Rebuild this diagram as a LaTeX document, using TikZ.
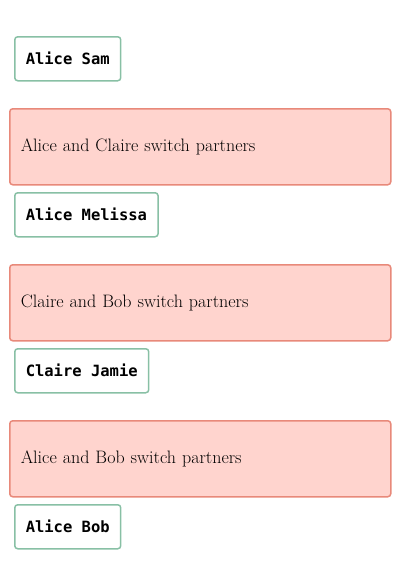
\documentclass[tikz,border=0pt]{standalone}
\usepackage{fontspec}
\setmonofont{DejaVu Sans Mono}
\usetikzlibrary{positioning}

\definecolor{pairline}{HTML}{88C0A5}
\definecolor{swapline}{HTML}{E8897A}
\definecolor{swapfill}{HTML}{FFD4CE}

\begin{document}
\begin{tikzpicture}[
  pair/.style={rectangle, draw=pairline, fill=white, line width=1.5pt, rounded corners=3pt,
    outer sep=0pt, minimum height=44pt, inner xsep=11pt,
    font=\fontsize{15.5pt}{18pt}\selectfont\ttfamily\bfseries},
  swap/.style={rectangle, draw=swapline, fill=swapfill, line width=1.5pt, rounded corners=3pt,
    outer sep=0pt, minimum height=76pt, text width=359pt, inner xsep=11pt, align=left,
    font=\fontsize{18pt}{21pt}\selectfont},
  x=1pt, y=1pt,
]
\useasboundingbox (0,0) rectangle (400,-563);

%%% Nodes
\node[pair, anchor=north west] (pair1) at (14.75,-36.75) {Alice Sam};
\node[swap] (swap1) [below=28pt of pair1.south west, anchor=north west, xshift=-5pt] {Alice and Claire switch partners};
\node[pair] (pair2) [below=8pt of swap1.south west, anchor=north west, xshift=5pt] {Alice Melissa};
\node[swap] (swap2) [below=28pt of pair2.south west, anchor=north west, xshift=-5pt] {Claire and Bob switch partners};
\node[pair] (pair3) [below=8pt of swap2.south west, anchor=north west, xshift=5pt] {Claire Jamie};
\node[swap] (swap3) [below=28pt of pair3.south west, anchor=north west, xshift=-5pt] {Alice and Bob switch partners};
\node[pair] (pair4) [below=8pt of swap3.south west, anchor=north west, xshift=5pt] {Alice Bob};

\end{tikzpicture}
\end{document}
